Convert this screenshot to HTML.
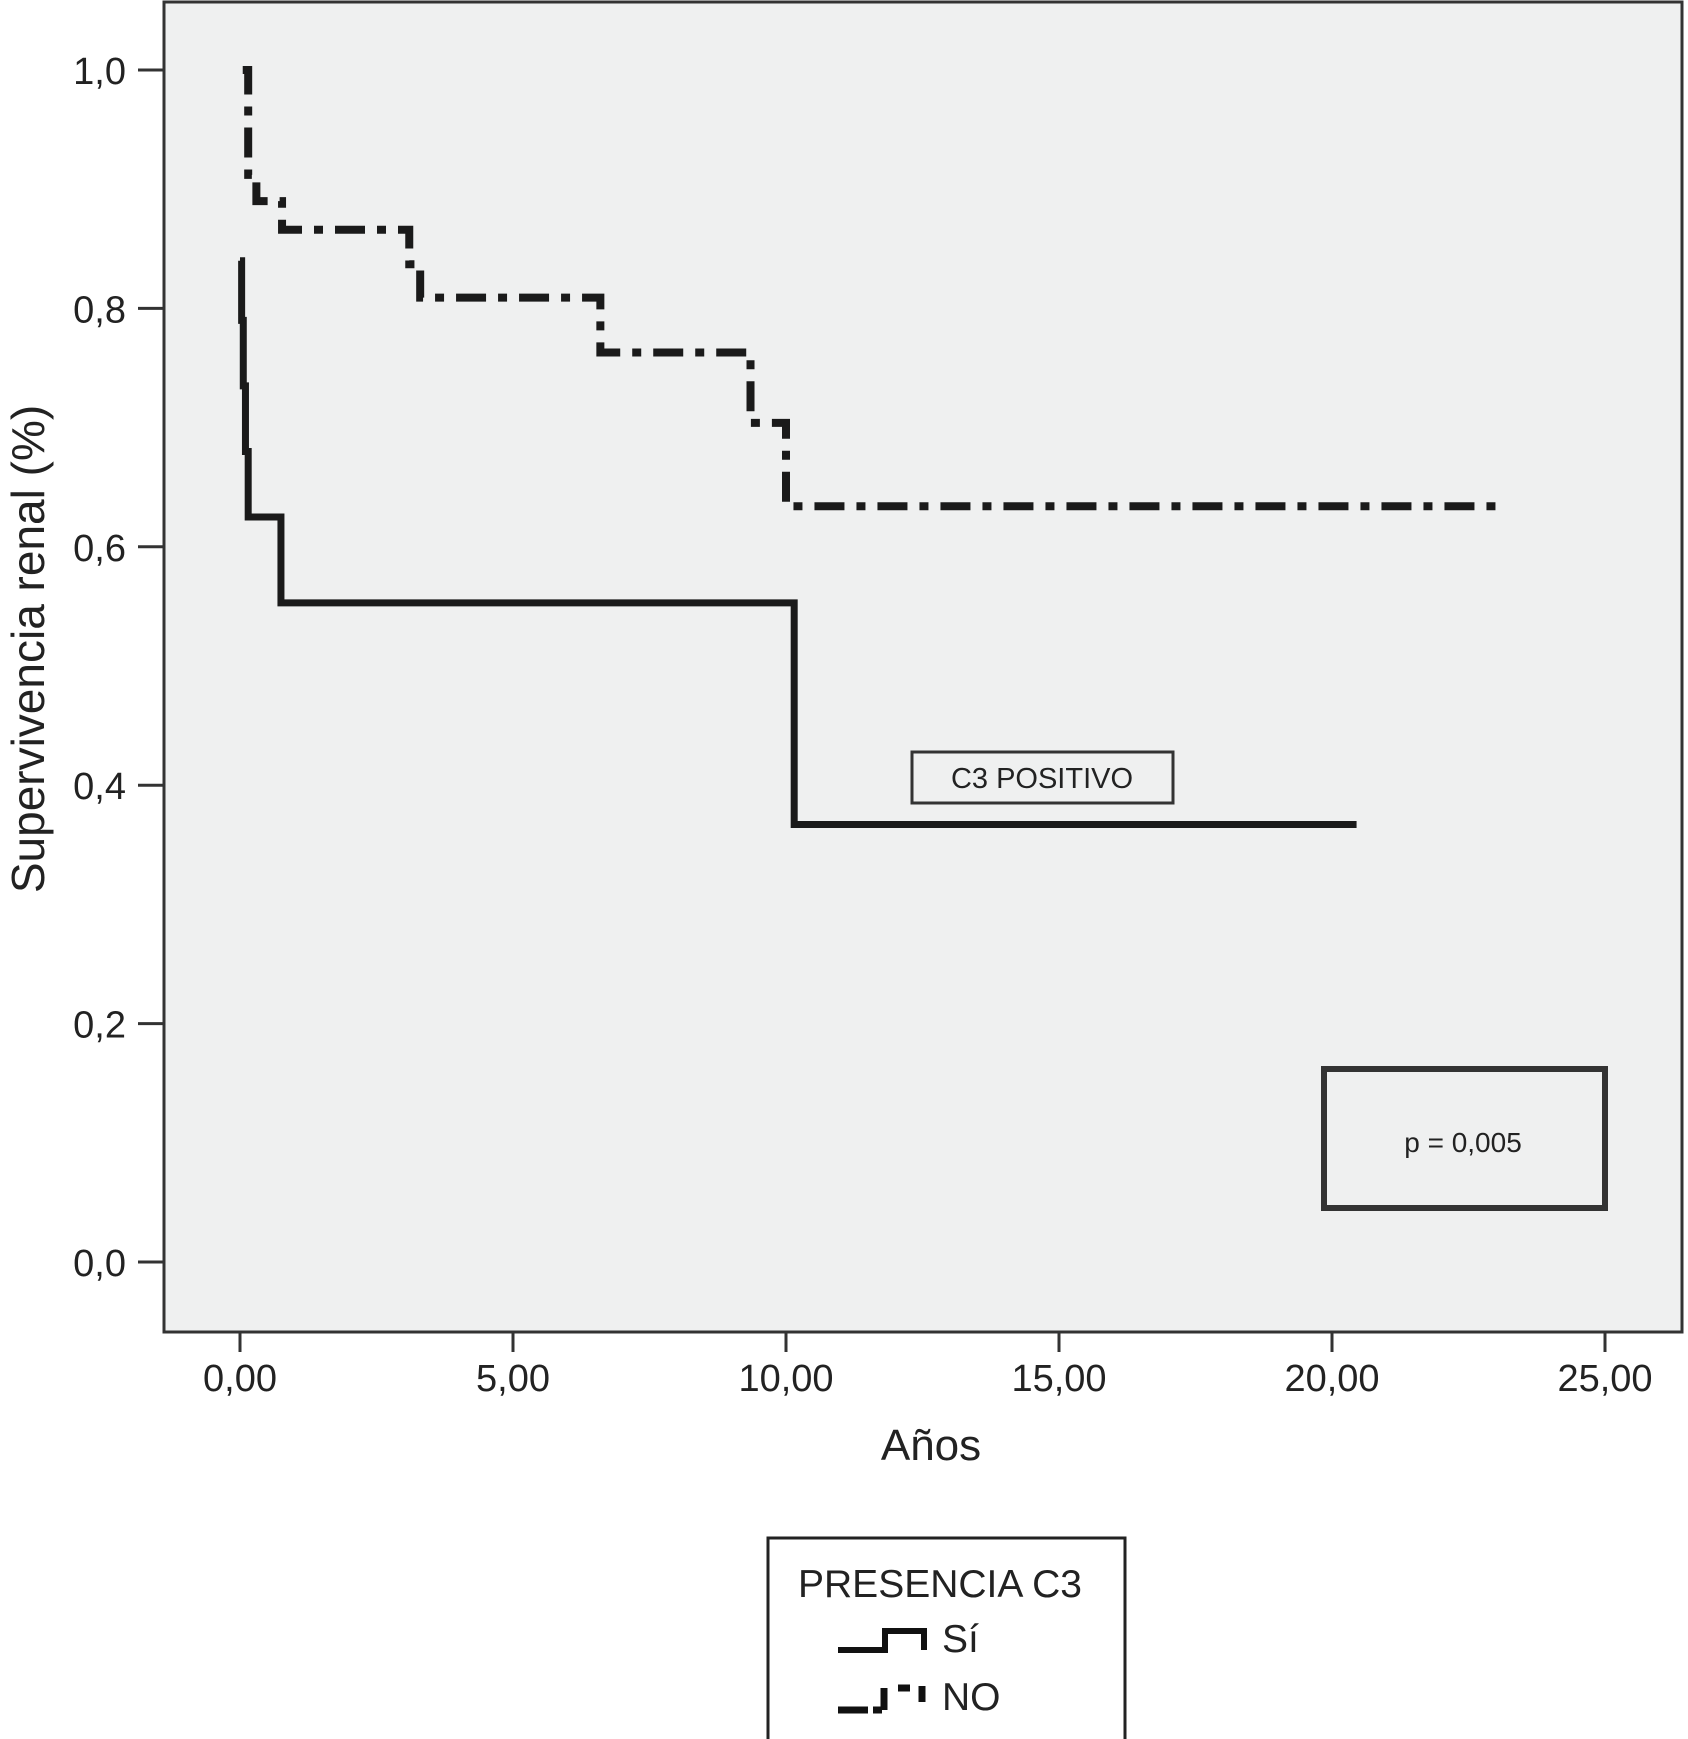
<!DOCTYPE html>
<html><head><meta charset="utf-8"><style>
body{margin:0;background:#fff;}
svg{display:block;font-family:"Liberation Sans",Arial,sans-serif;}
</style></head><body>
<svg width="1688" height="1739" viewBox="0 0 1688 1739">
<rect x="164" y="2" width="1518" height="1330" fill="#eff0f0" stroke="#333" stroke-width="3"/>
<g id="axes"></g>
<g id="curves"></g>
<text x="28" y="649" font-size="46" fill="#222" text-anchor="middle" transform="rotate(-90 28 649)" dy="16">Supervivencia renal (%)</text>
<text x="931" y="1460" font-size="44" fill="#222" text-anchor="middle">Años</text>
<rect x="912" y="752" width="261" height="51" fill="none" stroke="#333" stroke-width="3"/>
<text x="1042" y="788" font-size="29" fill="#222" text-anchor="middle">C3 POSITIVO</text>
<rect x="1324" y="1069" width="281" height="139" fill="none" stroke="#333" stroke-width="6"/>
<text x="1463" y="1152" font-size="28" fill="#222" text-anchor="middle">p = 0,005</text>
<rect x="768" y="1538" width="357" height="210" fill="#fff" stroke="#222" stroke-width="3"/>
<text x="798" y="1597" font-size="39" fill="#222">PRESENCIA C3</text>
<path d="M838 1650 H885 V1631 H924 V1650" fill="none" stroke="#111" stroke-width="6"/>
<text x="942" y="1652" font-size="39" fill="#222">Sí</text>
<path d="M838 1710 H868 M873 1710 H882 M884 1710 V1688 M898 1688 H910 M922 1686 V1702" fill="none" stroke="#111" stroke-width="7"/>
<text x="942" y="1710" font-size="39" fill="#222">NO</text>
</svg>
<script>
const xTicks=[0,5,10,15,20,25];
const xTickLabels=["0,00","5,00","10,00","15,00","20,00","25,00"];
const yTicks=[0,0.2,0.4,0.6,0.8,1.0];
const yTickLabels=["0,0","0,2","0,4","0,6","0,8","1,0"];
const siTimes=[0,0.03,0.06,0.1,0.15,0.75,10.15,20.45];
const siValues=[0.84,0.79,0.735,0.68,0.625,0.553,0.367,0.367];
const noTimes=[0.05,0.15,0.3,0.77,3.1,3.3,6.6,9.35,10.0,23.07];
const noValues=[1.0,0.912,0.89,0.866,0.837,0.809,0.763,0.704,0.634,0.634];
const NS='http://www.w3.org/2000/svg';
const xs=t=>240+t*54.6;
const ys=v=>1262-v*1192;
const axes=document.getElementById('axes');
xTicks.forEach((t,i)=>{
 const l=document.createElementNS(NS,'line');
 l.setAttribute('x1',xs(t));l.setAttribute('x2',xs(t));l.setAttribute('y1',1332);l.setAttribute('y2',1352);
 l.setAttribute('stroke','#333');l.setAttribute('stroke-width','3');
 
 
 axes.appendChild(l);
 const tx=document.createElementNS(NS,'text');
 tx.setAttribute('x',xs(t));tx.setAttribute('y',1391);tx.setAttribute('font-size','38');tx.setAttribute('fill','#222');tx.setAttribute('text-anchor','middle');
 tx.textContent=xTickLabels[i];
 
 
 axes.appendChild(tx);
});
yTicks.forEach((v,i)=>{
 const l=document.createElementNS(NS,'line');
 l.setAttribute('x1',138);l.setAttribute('x2',164);l.setAttribute('y1',ys(v));l.setAttribute('y2',ys(v));
 l.setAttribute('stroke','#333');l.setAttribute('stroke-width','3');
 
 
 axes.appendChild(l);
 const tx=document.createElementNS(NS,'text');
 tx.setAttribute('x',126);tx.setAttribute('y',ys(v)+14);tx.setAttribute('font-size','38');tx.setAttribute('fill','#222');tx.setAttribute('text-anchor','end');
 tx.textContent=yTickLabels[i];
 
 
 axes.appendChild(tx);
});
function stepPath(T,V){
 let d='M'+xs(T[0])+' '+ys(V[0]);
 for(let i=1;i<T.length;i++){d+=' H'+xs(T[i])+' V'+ys(V[i]);}
 return d;
}
const curves=document.getElementById('curves');
const si=document.createElementNS(NS,'path');
si.setAttribute('d',stepPath(siTimes,siValues));
si.setAttribute('fill','none');si.setAttribute('stroke','#1a1a1a');si.setAttribute('stroke-width','7');


curves.appendChild(si);
const no=document.createElementNS(NS,'path');
no.setAttribute('d',stepPath(noTimes,noValues));
no.setAttribute('fill','none');no.setAttribute('stroke','#1a1a1a');no.setAttribute('stroke-width','8');
no.setAttribute('stroke-dasharray','30 12 9 12');


curves.appendChild(no);
</script>
</body></html>
